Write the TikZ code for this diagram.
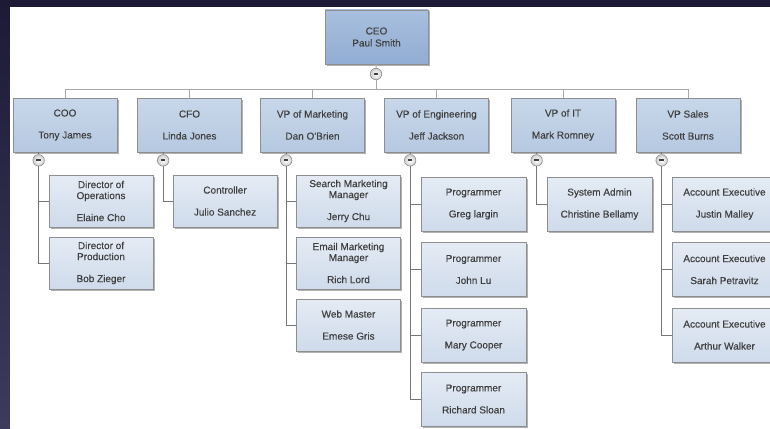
\documentclass[tikz,border=0pt]{standalone}
\usepackage{fontspec}
\setmainfont{Liberation Sans}
\newfontfamily\cardfont[FakeBold=0.35]{Liberation Sans}
\usetikzlibrary{calc,shadows}

\definecolor{frame}{HTML}{1C1A35}
\definecolor{frameedge}{HTML}{3C3B5E}
\definecolor{txt}{HTML}{404040}
\definecolor{cardedge}{HTML}{8E8E8E}
\definecolor{ceotop}{HTML}{A8BFDE}
\definecolor{ceobot}{HTML}{92ADD3}
\definecolor{vptop}{HTML}{C8D7EA}
\definecolor{vpbot}{HTML}{B6C9E1}
\definecolor{sttop}{HTML}{E4EBF4}
\definecolor{stbot}{HTML}{CFDBEB}
\definecolor{togedge}{HTML}{8A8A8A}
\definecolor{togfill}{HTML}{CFCFCF}
\definecolor{busline}{HTML}{A8A8A8}
\definecolor{branchline}{HTML}{767676}

\begin{document}
\begin{tikzpicture}[x=1pt,y=-1pt,
  every node/.style={font=\cardfont\fontsize{10}{11}\selectfont, text=txt},
  card/.style={draw=cardedge, line width=0.7pt, align=center, inner sep=0pt,
    drop shadow={shadow xshift=1.5pt, shadow yshift=-1.5pt, fill=black, opacity=0.3}},
  ceocard/.style={card, minimum width=103pt, minimum height=54pt,
    top color=ceotop, bottom color=ceobot},
  vpcard/.style={card, minimum width=104pt, minimum height=54pt,
    top color=vptop, bottom color=vpbot},
  staffcard/.style={card, minimum width=104pt, minimum height=52pt,
    top color=sttop, bottom color=stbot},
  tallcard/.style={card, minimum width=105pt, minimum height=54pt,
    top color=sttop, bottom color=stbot},
  toggle/.style={circle, draw=togedge, line width=0.6pt, inner sep=0pt,
    minimum size=11.5pt, inner color=white, outer color=togfill},
  bus/.style={draw=busline, line width=0.9pt},
  branch/.style={draw=branchline, line width=0.9pt},
]
\useasboundingbox (0,0) rectangle (770,428);

% dark frame and white sheet
\fill[frame] (0,0) rectangle (770,428);
\shade[top color=frame, bottom color=frameedge] (0,0) rectangle (10,428);
\fill[white] (10,7) rectangle (770,428);

% top level
\node[ceocard] (ceo) at (376.5,37) {CEO\\[1pt]Paul Smith};
\node[toggle] (ceotg) at (376,74) {\rule{4.5pt}{1.8pt}};
\coordinate (busmid) at (376,89);

% vice presidents
\node[vpcard] (coo)   at (65,125)    {COO\\[11pt]Tony James};
\node[vpcard] (cfo)   at (189.5,125) {CFO\\[11pt]Linda Jones};
\node[vpcard] (mkt)   at (312.5,125) {VP of Marketing\\[11pt]Dan O\textquotesingle Brien};
\node[vpcard] (eng)   at (436.5,125) {VP of Engineering\\[11pt]Jeff Jackson};
\node[vpcard] (it)    at (563,125)   {VP of IT\\[11pt]Mark Romney};
\node[vpcard] (sales) at (688,125)   {VP Sales\\[11pt]Scott Burns};

\draw[bus] (ceo.south) -- (ceotg.north);
\draw[bus] (ceotg.south) -- (busmid);
\foreach \v in {coo,cfo,mkt,eng,it,sales}
  \draw[bus] (\v.north) |- (busmid);

% collapse toggles under each vice president
\foreach \v in {coo,cfo,mkt,eng,it,sales} {
  \node[toggle] (\v tg) at ($(\v.south west)+(26,8)$) {\rule{4.5pt}{1.8pt}};
  \draw[branch] (\v tg.north) -- (\v tg.north |- \v.south);
}

% operations
\node[staffcard] (opsdir)  at (101,201) {Director of\\Operations\\[11pt]Elaine Cho};
\node[staffcard] (proddir) at (101,263) {Director of\\Production\\[11pt]Bob Zieger};
% finance
\node[staffcard] (ctrl)    at (225,201) {Controller\\[11pt]Julio Sanchez};
% marketing
\node[staffcard] (search)  at (348.5,201) {Search Marketing\\Manager\\[11pt]Jerry Chu};
\node[staffcard] (email)   at (348.5,263) {Email Marketing\\Manager\\[11pt]Rich Lord};
\node[staffcard] (web)     at (348.5,325) {Web Master\\[11pt]Emese Gris};
% engineering
\node[tallcard] (prog1) at (473.5,204)   {Programmer\\[11pt]Greg largin};
\node[tallcard] (prog2) at (473.5,269.5) {Programmer\\[11pt]John Lu};
\node[tallcard] (prog3) at (473.5,335)   {Programmer\\[11pt]Mary Cooper};
\node[tallcard] (prog4) at (473.5,399)   {Programmer\\[11pt]Richard Sloan};
% IT
\node[tallcard] (sysadm) at (599.5,204) {System Admin\\[11pt]Christine Bellamy};
% sales
\node[tallcard] (acct1) at (724.5,204)   {Account Executive\\[11pt]Justin Malley};
\node[tallcard] (acct2) at (724.5,269.5) {Account Executive\\[11pt]Sarah Petravitz};
\node[tallcard] (acct3) at (724.5,335)   {Account Executive\\[11pt]Arthur Walker};

% reporting lines
\foreach \p/\c in {coo/opsdir, coo/proddir, cfo/ctrl,
                   mkt/search, mkt/email, mkt/web,
                   eng/prog1, eng/prog2, eng/prog3, eng/prog4,
                   it/sysadm, sales/acct1, sales/acct2, sales/acct3}
  \draw[branch] (\p tg.south) |- (\c.west);

\end{tikzpicture}
\end{document}
